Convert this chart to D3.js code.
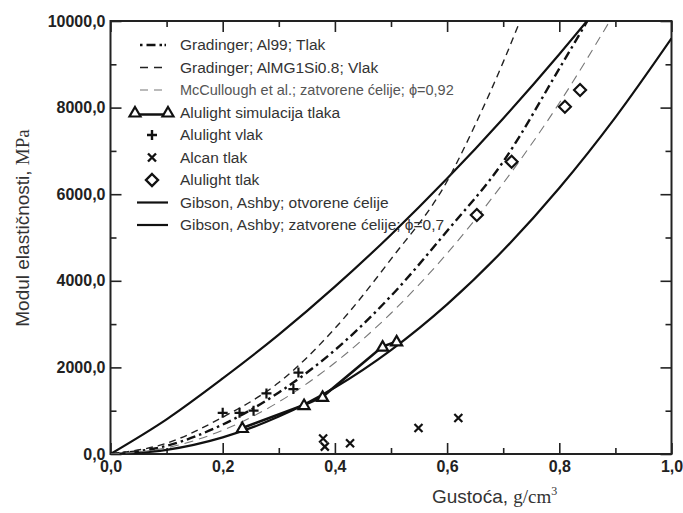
<!DOCTYPE html>
<html><head><meta charset="utf-8">
<script src="https://cdn.jsdelivr.net/npm/d3@7"></script>
<style>body{margin:0;background:#fff}</style>
</head><body><svg id="c" width="683" height="513"></svg>
<script>
// ---- data ----
const xTicksMajor = [0, 0.2, 0.4, 0.6, 0.8, 1.0];
const xTicksMinor = [0.1, 0.3, 0.5, 0.7, 0.9];
const yTicksMajor = [0, 2000, 4000, 6000, 8000, 10000];
const yTicksMinor = [1000, 3000, 5000, 7000, 9000];

const gaClosedX = [0, 0.1, 0.2, 0.3, 0.4, 0.5, 0.6, 0.7, 0.8, 0.85];
const gaClosedY = [0, 800, 1744, 2756, 3864, 5065, 6361, 7750, 9233, 10010];
const gaOpenX = [0, 0.1, 0.2, 0.3, 0.4, 0.5, 0.6, 0.7, 0.8, 0.9, 1.0];
const gaOpenY = [0, 96, 384, 864, 1536, 2400, 3456, 4704, 6144, 7776, 9600];
const al99X = [0, 0.1, 0.2, 0.3, 0.4, 0.5, 0.6, 0.7, 0.8, 0.85];
const al99Y = [0, 190, 680, 1420, 2400, 3650, 5150, 6750, 8900, 10000];
const almgX = [0, 0.1, 0.2, 0.3, 0.4, 0.5, 0.6, 0.65, 0.7, 0.73];
const almgY = [0, 250, 850, 1650, 2900, 4500, 6300, 7600, 9050, 10000];
const mccX = [0, 0.1, 0.2, 0.3, 0.4, 0.5, 0.6, 0.7, 0.8, 0.89];
const mccY = [0, 142, 548, 1203, 2107, 3251, 4634, 6253, 8105, 10000];

const simX = [0.235, 0.345, 0.378, 0.485, 0.51];
const simY = [600, 1130, 1320, 2480, 2600];
const vlakX = [0.2, 0.23, 0.255, 0.278, 0.326, 0.335];
const vlakY = [950, 950, 1000, 1400, 1500, 1880];
const alcanX = [0.379, 0.382, 0.427, 0.549, 0.62];
const alcanY = [360, 170, 250, 600, 830];
const tlakX = [0.653, 0.715, 0.81, 0.837];
const tlakY = [5520, 6750, 8020, 8406];

const legendLabels = [
  "Gradinger; Al99; Tlak",
  "Gradinger; AlMG1Si0.8; Vlak",
  "McCullough et al.; zatvorene ćelije; ϕ=0,92",
  "Alulight simulacija tlaka",
  "Alulight vlak",
  "Alcan tlak",
  "Alulight tlak",
  "Gibson, Ashby; otvorene ćelije",
  "Gibson, Ashby; zatvorene ćelije; ϕ=0,7"
];

// ---- layout ----
const L = 110.5, R = 671.5, T = 21, B = 454;
const svg = d3.select("#c");
const x = d3.scaleLinear().domain([0, 1]).range([L, R]);
const y = d3.scaleLinear().domain([0, 10000]).range([B, T]);
const fmt = v => d3.format(".1f")(v).replace(".", ",");
const SANS = "'Liberation Sans', Arial, sans-serif";
const SERIF = "'Liberation Serif', 'Times New Roman', serif";

svg.append("defs").append("clipPath").attr("id", "clip")
  .append("rect").attr("x", L).attr("y", T).attr("width", R - L).attr("height", B - T);

// axes
function styleAxis(g) {
  g.select(".domain").remove();
  g.selectAll("line").attr("stroke", "#222").attr("stroke-width", 1.6);
  g.selectAll("text").attr("font-family", SANS).attr("font-size", 16).attr("font-weight", "bold").attr("fill", "#222");
}
svg.append("g").attr("transform", `translate(0,${B})`)
  .call(d3.axisBottom(x).tickValues(xTicksMajor).tickSize(-11).tickPadding(7).tickFormat(fmt)).call(styleAxis);
svg.append("g").attr("transform", `translate(0,${B})`)
  .call(d3.axisBottom(x).tickValues(xTicksMinor).tickSize(-6).tickFormat("")).call(styleAxis);
svg.append("g").attr("transform", `translate(0,${T})`)
  .call(d3.axisTop(x).tickValues(xTicksMajor).tickSize(-11).tickFormat("")).call(styleAxis);
svg.append("g").attr("transform", `translate(0,${T})`)
  .call(d3.axisTop(x).tickValues(xTicksMinor).tickSize(-6).tickFormat("")).call(styleAxis);
svg.append("g").attr("transform", `translate(${L},0)`)
  .call(d3.axisLeft(y).tickValues(yTicksMajor).tickSize(-11).tickPadding(5).tickFormat(fmt)).call(styleAxis);
svg.append("g").attr("transform", `translate(${L},0)`)
  .call(d3.axisLeft(y).tickValues(yTicksMinor).tickSize(-6).tickFormat("")).call(styleAxis);
svg.append("g").attr("transform", `translate(${R},0)`)
  .call(d3.axisRight(y).tickValues(yTicksMajor).tickSize(-11).tickFormat("")).call(styleAxis);
svg.append("g").attr("transform", `translate(${R},0)`)
  .call(d3.axisRight(y).tickValues(yTicksMinor).tickSize(-6).tickFormat("")).call(styleAxis);

svg.append("rect").attr("x", L).attr("y", T).attr("width", R - L).attr("height", B - T)
  .attr("fill", "none").attr("stroke", "#222").attr("stroke-width", 2);

// curves
const line = d3.line().x(d => x(d[0])).y(d => y(d[1])).curve(d3.curveMonotoneX);
const zip = (a, b) => a.map((v, i) => [v, b[i]]);
const plot = svg.append("g").attr("clip-path", "url(#clip)");
const curves = [
  {xs: gaClosedX, ys: gaClosedY, w: 2.2, dash: null, c: "#111"},
  {xs: gaOpenX, ys: gaOpenY, w: 2.2, dash: null, c: "#111"},
  {xs: al99X, ys: al99Y, w: 2.4, dash: "9,4,2.5,4", c: "#111"},
  {xs: almgX, ys: almgY, w: 1.4, dash: "7,5", c: "#222"},
  {xs: mccX, ys: mccY, w: 1.1, dash: "9,6", c: "#777"}
];
curves.forEach(cv => {
  plot.append("path").attr("d", line(zip(cv.xs, cv.ys))).attr("fill", "none")
    .attr("stroke", cv.c).attr("stroke-width", cv.w).attr("stroke-dasharray", cv.dash);
});
plot.append("path").attr("d", d3.line().x(d => x(d[0])).y(d => y(d[1]))(zip(simX, simY)))
  .attr("fill", "none").attr("stroke", "#111").attr("stroke-width", 2.6);

// markers
const triPath = "M0,-5.5L5.5,4L-5.5,4Z";
const diaPath = "M0,-6L6,0L0,6L-6,0Z";
const plusPath = "M-5,0H5M0,-5V5";
const crossPath = "M-4,-4L4,4M4,-4L-4,4";
function marks(xs, ys, p, fill) {
  plot.append("g").selectAll("path").data(zip(xs, ys)).join("path")
    .attr("transform", d => `translate(${x(d[0])},${y(d[1])})`)
    .attr("d", p).attr("fill", fill).attr("stroke", "#111").attr("stroke-width", 2.2);
}
marks(simX, simY, triPath, "#fff");
marks(vlakX, vlakY, plusPath, "none");
marks(alcanX, alcanY, crossPath, "none");
marks(tlakX, tlakY, diaPath, "#fff");

// legend
const lg = svg.append("g");
const ly0 = 45, ldy = 22.5, lx0 = 140, lx1 = 166, lxt = 180;
legendLabels.forEach((t, i) => {
  const yy = ly0 + i * ldy;
  lg.append("text").attr("x", lxt).attr("y", yy).attr("dy", "0.35em")
    .attr("font-family", SANS).attr("font-size", i === 2 ? 14.5 : 15.5)
    .attr("fill", i === 2 ? "#555" : "#333").text(t);
});
const ly = i => ly0 + i * ldy;
lg.append("line").attr("x1", lx0).attr("x2", lx1).attr("y1", ly(0)).attr("y2", ly(0))
  .attr("stroke", "#111").attr("stroke-width", 2.4).attr("stroke-dasharray", "2.5,4,9,4,2.5");
lg.append("line").attr("x1", lx0).attr("x2", lx1).attr("y1", ly(1)).attr("y2", ly(1))
  .attr("stroke", "#222").attr("stroke-width", 1.4).attr("stroke-dasharray", "8,6");
lg.append("line").attr("x1", lx0).attr("x2", lx1).attr("y1", ly(2)).attr("y2", ly(2))
  .attr("stroke", "#777").attr("stroke-width", 1.1).attr("stroke-dasharray", "8,6");
lg.append("line").attr("x1", 135).attr("x2", 168).attr("y1", ly(3) + 2).attr("y2", ly(3) + 2)
  .attr("stroke", "#111").attr("stroke-width", 2.6);
[135, 168].forEach(px => lg.append("path").attr("transform", `translate(${px},${ly(3)})`)
  .attr("d", triPath).attr("fill", "#fff").attr("stroke", "#111").attr("stroke-width", 2.2));
lg.append("path").attr("transform", `translate(152,${ly(4)})`).attr("d", plusPath)
  .attr("fill", "none").attr("stroke", "#111").attr("stroke-width", 2.4);
lg.append("path").attr("transform", `translate(152,${ly(5)})`).attr("d", crossPath)
  .attr("fill", "none").attr("stroke", "#111").attr("stroke-width", 2.4);
lg.append("path").attr("transform", `translate(152,${ly(6)})`).attr("d", diaPath)
  .attr("fill", "#fff").attr("stroke", "#111").attr("stroke-width", 2.4);
[7, 8].forEach(i => lg.append("line").attr("x1", 137).attr("x2", 168).attr("y1", ly(i)).attr("y2", ly(i))
  .attr("stroke", "#111").attr("stroke-width", 2.2));

// axis titles
const yt = svg.append("text").attr("transform", "translate(29,228) rotate(-90)")
  .attr("text-anchor", "middle").attr("font-size", 19).attr("fill", "#333");
yt.append("tspan").attr("font-family", SANS).text("Modul elastičnosti, ");
yt.append("tspan").attr("font-family", SERIF).text("MPa");

const xt = svg.append("text").attr("x", 432).attr("y", 503).attr("font-size", 19).attr("fill", "#333");
xt.append("tspan").attr("font-family", SANS).text("Gustoća, ");
xt.append("tspan").attr("font-family", SERIF).text("g/cm");
xt.append("tspan").attr("font-family", SERIF).attr("font-size", 12).attr("dy", -8).text("3");
</script></body></html>
